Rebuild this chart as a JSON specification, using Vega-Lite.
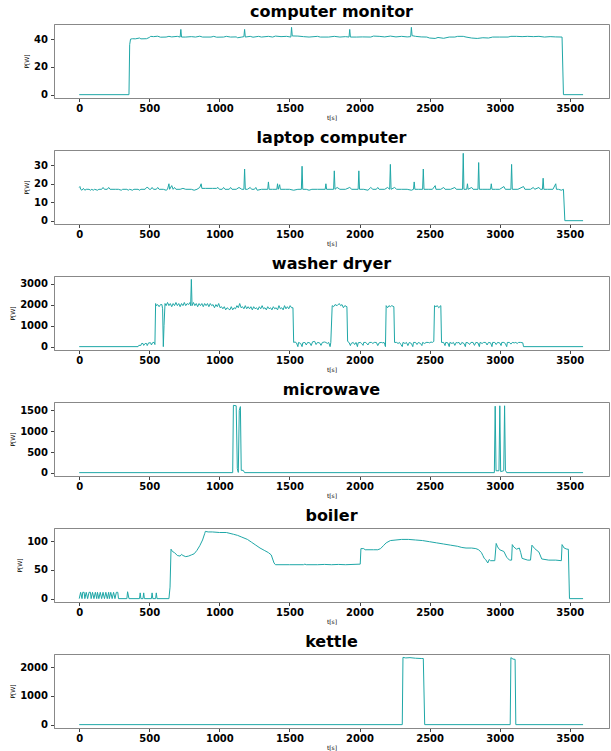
{
  "$schema": "https://vega.github.io/schema/vega-lite/v6.json",
  "padding": {"left": 9, "top": 3, "right": 1, "bottom": 3},
  "background": "white",
  "config": {
    "font": "DejaVu Sans",
    "view": {"stroke": "#888888", "strokeWidth": 1},
    "axis": {"grid": false, "domainColor": "#888888", "tickColor": "#444444", "tickSize": 3.5, "labelFontSize": 10, "labelFontWeight": "bold", "labelColor": "#000000", "labelPadding": 2, "titleFontSize": 6, "titleFontWeight": "normal", "titleColor": "#000000", "titlePadding": 1, "format": "d"},
    "axisY": {"titlePadding": 4, "labelPadding": 3},
    "title": {"fontSize": 16, "fontWeight": "bold", "color": "#000000", "offset": 4, "anchor": "middle"}
  },
  "datasets": {
    "monitor": [
      {"t":0,"p":0},{"t":355,"p":0},{"t":360,"p":36},{"t":366,"p":40},{"t":380,"p":40.3},{"t":400,"p":40.2},{"t":430,"p":40.8},{"t":440,"p":40.2},{"t":480,"p":40.3},{"t":500,"p":41.2},{"t":510,"p":42},{"t":530,"p":41.8},{"t":560,"p":42.1},{"t":580,"p":41.4},{"t":620,"p":41.5},{"t":640,"p":42},{"t":660,"p":41.6},{"t":700,"p":42},{"t":720,"p":41.5},{"t":725,"p":47},{"t":730,"p":41.5},{"t":760,"p":41.5},{"t":800,"p":41.8},{"t":830,"p":41.5},{"t":860,"p":42.1},{"t":880,"p":41.5},{"t":940,"p":41.5},{"t":960,"p":42},{"t":980,"p":41.4},{"t":1030,"p":41.5},{"t":1050,"p":42},{"t":1080,"p":41.5},{"t":1120,"p":41.6},{"t":1130,"p":41},{"t":1160,"p":41.5},{"t":1175,"p":41.8},{"t":1180,"p":47},{"t":1185,"p":41.5},{"t":1220,"p":42},{"t":1240,"p":41.4},{"t":1280,"p":42},{"t":1300,"p":41.5},{"t":1350,"p":42},{"t":1380,"p":41.5},{"t":1400,"p":42.2},{"t":1440,"p":41.8},{"t":1480,"p":42},{"t":1510,"p":41.5},{"t":1515,"p":48.5},{"t":1520,"p":42.3},{"t":1560,"p":42.2},{"t":1600,"p":41.8},{"t":1640,"p":41.5},{"t":1700,"p":42},{"t":1720,"p":41.5},{"t":1780,"p":41.5},{"t":1820,"p":42},{"t":1860,"p":41.5},{"t":1900,"p":41.8},{"t":1925,"p":41.5},{"t":1930,"p":47},{"t":1935,"p":41.5},{"t":1980,"p":41.5},{"t":2020,"p":41.6},{"t":2080,"p":41.5},{"t":2100,"p":42.2},{"t":2140,"p":42},{"t":2180,"p":41.6},{"t":2220,"p":42.2},{"t":2260,"p":41.6},{"t":2300,"p":42},{"t":2340,"p":41.6},{"t":2365,"p":41.8},{"t":2370,"p":48.5},{"t":2375,"p":42.5},{"t":2400,"p":42},{"t":2440,"p":41.6},{"t":2480,"p":41.5},{"t":2500,"p":40.8},{"t":2540,"p":40.5},{"t":2560,"p":41.2},{"t":2600,"p":40.6},{"t":2640,"p":41.5},{"t":2680,"p":41.5},{"t":2700,"p":42},{"t":2740,"p":42},{"t":2760,"p":41.5},{"t":2800,"p":40.8},{"t":2840,"p":40.5},{"t":2880,"p":41},{"t":2920,"p":40.8},{"t":2950,"p":41.5},{"t":3000,"p":41.5},{"t":3060,"p":41.5},{"t":3080,"p":42},{"t":3120,"p":42},{"t":3160,"p":41.8},{"t":3200,"p":42},{"t":3240,"p":41.8},{"t":3280,"p":42},{"t":3320,"p":41.5},{"t":3360,"p":41.8},{"t":3400,"p":41.6},{"t":3445,"p":41.5},{"t":3455,"p":0},{"t":3595,"p":0}
    ],
    "laptop": [
      {"t":0,"p":18},{"t":5,"p":18.5},{"t":10,"p":17},{"t":20,"p":16.5},{"t":30,"p":17.5},{"t":40,"p":16.5},{"t":50,"p":17},{"t":70,"p":17},{"t":80,"p":16.5},{"t":90,"p":17},{"t":100,"p":16.5},{"t":110,"p":17},{"t":130,"p":16.5},{"t":140,"p":17},{"t":160,"p":17},{"t":170,"p":18},{"t":180,"p":17},{"t":200,"p":17},{"t":210,"p":18},{"t":220,"p":17},{"t":260,"p":17},{"t":280,"p":17},{"t":300,"p":16.5},{"t":310,"p":17},{"t":340,"p":17},{"t":350,"p":16.5},{"t":360,"p":17},{"t":380,"p":16.5},{"t":390,"p":17},{"t":420,"p":17},{"t":430,"p":16.5},{"t":440,"p":17},{"t":470,"p":17},{"t":480,"p":18},{"t":490,"p":18},{"t":500,"p":17},{"t":510,"p":17},{"t":520,"p":18},{"t":530,"p":17},{"t":550,"p":17},{"t":560,"p":18},{"t":570,"p":17},{"t":600,"p":17},{"t":620,"p":16.5},{"t":630,"p":17},{"t":640,"p":20},{"t":645,"p":17},{"t":660,"p":19},{"t":670,"p":17},{"t":680,"p":18},{"t":690,"p":17},{"t":720,"p":17},{"t":740,"p":17.5},{"t":760,"p":17},{"t":800,"p":17},{"t":820,"p":16.5},{"t":840,"p":17},{"t":860,"p":18},{"t":870,"p":20},{"t":875,"p":17.5},{"t":900,"p":17.5},{"t":950,"p":17.5},{"t":980,"p":17.5},{"t":990,"p":18},{"t":1000,"p":17},{"t":1020,"p":17},{"t":1030,"p":18},{"t":1040,"p":17},{"t":1070,"p":17},{"t":1080,"p":18},{"t":1090,"p":17},{"t":1120,"p":17},{"t":1140,"p":18},{"t":1160,"p":17},{"t":1175,"p":17},{"t":1180,"p":28},{"t":1185,"p":17},{"t":1200,"p":17},{"t":1220,"p":18},{"t":1230,"p":17},{"t":1250,"p":17},{"t":1260,"p":18},{"t":1270,"p":16.5},{"t":1300,"p":17},{"t":1345,"p":17},{"t":1350,"p":21},{"t":1355,"p":17},{"t":1380,"p":17},{"t":1410,"p":17},{"t":1415,"p":20},{"t":1420,"p":17},{"t":1430,"p":19.5},{"t":1435,"p":17},{"t":1470,"p":17},{"t":1500,"p":17},{"t":1530,"p":16.5},{"t":1560,"p":17},{"t":1585,"p":17},{"t":1590,"p":29.5},{"t":1595,"p":17},{"t":1620,"p":17},{"t":1640,"p":16.5},{"t":1660,"p":17},{"t":1700,"p":17},{"t":1755,"p":17},{"t":1760,"p":20},{"t":1765,"p":17},{"t":1815,"p":17},{"t":1820,"p":27},{"t":1825,"p":17},{"t":1840,"p":18},{"t":1860,"p":17},{"t":1900,"p":17},{"t":1930,"p":18},{"t":1945,"p":17},{"t":1990,"p":17},{"t":1995,"p":27},{"t":2000,"p":17},{"t":2030,"p":17},{"t":2060,"p":16.5},{"t":2080,"p":18},{"t":2095,"p":17},{"t":2120,"p":17},{"t":2130,"p":18},{"t":2140,"p":17},{"t":2180,"p":17},{"t":2200,"p":18},{"t":2215,"p":17},{"t":2220,"p":30.5},{"t":2225,"p":17},{"t":2250,"p":18},{"t":2265,"p":17},{"t":2300,"p":17},{"t":2340,"p":17},{"t":2370,"p":16.5},{"t":2385,"p":17},{"t":2390,"p":21},{"t":2395,"p":17},{"t":2420,"p":17},{"t":2450,"p":17},{"t":2455,"p":28},{"t":2460,"p":17},{"t":2490,"p":17},{"t":2520,"p":17},{"t":2540,"p":19},{"t":2545,"p":17},{"t":2580,"p":17},{"t":2600,"p":18},{"t":2610,"p":17},{"t":2650,"p":17},{"t":2680,"p":18},{"t":2690,"p":17},{"t":2735,"p":17},{"t":2740,"p":36.5},{"t":2745,"p":17},{"t":2765,"p":17},{"t":2770,"p":20},{"t":2775,"p":17},{"t":2800,"p":18},{"t":2810,"p":17},{"t":2845,"p":17},{"t":2850,"p":31.5},{"t":2855,"p":17},{"t":2880,"p":17},{"t":2910,"p":17},{"t":2935,"p":17},{"t":2940,"p":20},{"t":2945,"p":17},{"t":2970,"p":17},{"t":3000,"p":17},{"t":3030,"p":18.5},{"t":3040,"p":17},{"t":3080,"p":17},{"t":3085,"p":30.5},{"t":3090,"p":17},{"t":3130,"p":17},{"t":3170,"p":18.5},{"t":3180,"p":17},{"t":3220,"p":17},{"t":3240,"p":18},{"t":3250,"p":17},{"t":3280,"p":18},{"t":3290,"p":17},{"t":3305,"p":17},{"t":3310,"p":23},{"t":3315,"p":17},{"t":3340,"p":17},{"t":3380,"p":17},{"t":3400,"p":20},{"t":3405,"p":17},{"t":3420,"p":17},{"t":3440,"p":16.5},{"t":3455,"p":17},{"t":3465,"p":0},{"t":3595,"p":0}
    ],
    "washer": [
      {"t":0,"p":0},{"t":420,"p":0},{"t":425,"p":60},{"t":440,"p":60},{"t":445,"p":150},{"t":455,"p":150},{"t":460,"p":60},{"t":470,"p":150},{"t":480,"p":150},{"t":485,"p":50},{"t":495,"p":180},{"t":510,"p":180},{"t":515,"p":80},{"t":525,"p":200},{"t":535,"p":200},{"t":540,"p":100},{"t":545,"p":2050},{"t":550,"p":1950},{"t":560,"p":2000},{"t":570,"p":1900},{"t":580,"p":2000},{"t":590,"p":2000},{"t":595,"p":1800},{"t":600,"p":0},{"t":605,"p":1000},{"t":612,"p":2050},{"t":620,"p":1950},{"t":630,"p":2100},{"t":640,"p":1950},{"t":650,"p":2050},{"t":660,"p":1900},{"t":670,"p":2050},{"t":680,"p":1950},{"t":690,"p":2100},{"t":700,"p":1950},{"t":710,"p":2050},{"t":720,"p":1900},{"t":730,"p":2050},{"t":740,"p":1950},{"t":750,"p":2100},{"t":760,"p":1950},{"t":770,"p":2050},{"t":780,"p":2000},{"t":790,"p":2100},{"t":795,"p":1950},{"t":800,"p":3200},{"t":805,"p":1950},{"t":815,"p":2100},{"t":825,"p":1950},{"t":835,"p":2050},{"t":845,"p":1900},{"t":855,"p":2050},{"t":865,"p":1950},{"t":875,"p":2050},{"t":885,"p":1900},{"t":895,"p":2050},{"t":905,"p":1950},{"t":915,"p":2050},{"t":925,"p":1900},{"t":935,"p":2050},{"t":945,"p":1950},{"t":955,"p":2000},{"t":965,"p":1850},{"t":975,"p":2000},{"t":985,"p":1900},{"t":995,"p":2050},{"t":1005,"p":1850},{"t":1015,"p":1900},{"t":1025,"p":1800},{"t":1035,"p":1900},{"t":1045,"p":1750},{"t":1055,"p":1850},{"t":1065,"p":1800},{"t":1075,"p":1750},{"t":1085,"p":1900},{"t":1095,"p":1750},{"t":1105,"p":1850},{"t":1115,"p":1800},{"t":1125,"p":1950},{"t":1135,"p":1850},{"t":1145,"p":2050},{"t":1155,"p":1850},{"t":1165,"p":1900},{"t":1175,"p":1800},{"t":1185,"p":1950},{"t":1195,"p":1800},{"t":1205,"p":1900},{"t":1215,"p":1800},{"t":1225,"p":1900},{"t":1235,"p":1750},{"t":1245,"p":1900},{"t":1255,"p":1800},{"t":1265,"p":1850},{"t":1275,"p":1750},{"t":1285,"p":1900},{"t":1295,"p":1800},{"t":1305,"p":1950},{"t":1315,"p":1800},{"t":1325,"p":1850},{"t":1335,"p":1750},{"t":1345,"p":1900},{"t":1355,"p":1800},{"t":1365,"p":1850},{"t":1375,"p":1750},{"t":1385,"p":1900},{"t":1395,"p":1800},{"t":1405,"p":1850},{"t":1415,"p":1750},{"t":1425,"p":1950},{"t":1435,"p":1800},{"t":1445,"p":1850},{"t":1455,"p":1750},{"t":1465,"p":1950},{"t":1475,"p":1800},{"t":1485,"p":1900},{"t":1495,"p":1800},{"t":1505,"p":1950},{"t":1515,"p":1850},{"t":1525,"p":1850},{"t":1530,"p":200},{"t":1540,"p":220},{"t":1550,"p":180},{"t":1560,"p":0},{"t":1565,"p":200},{"t":1580,"p":150},{"t":1590,"p":0},{"t":1595,"p":180},{"t":1610,"p":200},{"t":1620,"p":80},{"t":1630,"p":200},{"t":1645,"p":180},{"t":1655,"p":50},{"t":1665,"p":230},{"t":1680,"p":250},{"t":1690,"p":100},{"t":1700,"p":200},{"t":1715,"p":180},{"t":1725,"p":60},{"t":1735,"p":200},{"t":1750,"p":220},{"t":1760,"p":200},{"t":1770,"p":150},{"t":1780,"p":200},{"t":1790,"p":0},{"t":1795,"p":200},{"t":1805,"p":1950},{"t":1815,"p":1900},{"t":1825,"p":2000},{"t":1840,"p":1950},{"t":1855,"p":2050},{"t":1865,"p":1950},{"t":1875,"p":2000},{"t":1885,"p":1850},{"t":1895,"p":1950},{"t":1910,"p":1900},{"t":1915,"p":250},{"t":1925,"p":200},{"t":1935,"p":50},{"t":1940,"p":150},{"t":1955,"p":200},{"t":1965,"p":100},{"t":1975,"p":200},{"t":1985,"p":0},{"t":1990,"p":180},{"t":2005,"p":200},{"t":2015,"p":150},{"t":2025,"p":60},{"t":2030,"p":200},{"t":2045,"p":200},{"t":2060,"p":80},{"t":2070,"p":200},{"t":2085,"p":200},{"t":2095,"p":150},{"t":2105,"p":200},{"t":2120,"p":200},{"t":2130,"p":50},{"t":2140,"p":180},{"t":2155,"p":200},{"t":2165,"p":180},{"t":2175,"p":200},{"t":2180,"p":100},{"t":2185,"p":0},{"t":2190,"p":1950},{"t":2200,"p":1850},{"t":2210,"p":1950},{"t":2220,"p":1900},{"t":2230,"p":1950},{"t":2245,"p":1900},{"t":2250,"p":200},{"t":2265,"p":200},{"t":2275,"p":150},{"t":2285,"p":200},{"t":2295,"p":100},{"t":2305,"p":0},{"t":2310,"p":200},{"t":2325,"p":150},{"t":2335,"p":200},{"t":2345,"p":50},{"t":2355,"p":200},{"t":2370,"p":150},{"t":2380,"p":0},{"t":2385,"p":200},{"t":2400,"p":200},{"t":2410,"p":100},{"t":2420,"p":200},{"t":2435,"p":150},{"t":2445,"p":50},{"t":2450,"p":200},{"t":2465,"p":150},{"t":2475,"p":200},{"t":2490,"p":200},{"t":2500,"p":180},{"t":2510,"p":220},{"t":2520,"p":200},{"t":2530,"p":250},{"t":2535,"p":1950},{"t":2545,"p":1900},{"t":2555,"p":1950},{"t":2565,"p":1850},{"t":2580,"p":1950},{"t":2585,"p":200},{"t":2600,"p":200},{"t":2610,"p":50},{"t":2615,"p":200},{"t":2630,"p":180},{"t":2640,"p":0},{"t":2645,"p":200},{"t":2660,"p":150},{"t":2670,"p":200},{"t":2680,"p":60},{"t":2690,"p":200},{"t":2700,"p":180},{"t":2710,"p":200},{"t":2720,"p":80},{"t":2730,"p":200},{"t":2745,"p":150},{"t":2755,"p":0},{"t":2760,"p":200},{"t":2775,"p":180},{"t":2785,"p":100},{"t":2795,"p":200},{"t":2810,"p":200},{"t":2820,"p":60},{"t":2830,"p":200},{"t":2845,"p":180},{"t":2855,"p":0},{"t":2860,"p":200},{"t":2875,"p":150},{"t":2885,"p":200},{"t":2900,"p":200},{"t":2910,"p":80},{"t":2920,"p":200},{"t":2935,"p":180},{"t":2945,"p":0},{"t":2950,"p":200},{"t":2965,"p":200},{"t":2975,"p":100},{"t":2985,"p":200},{"t":3000,"p":180},{"t":3010,"p":50},{"t":3015,"p":200},{"t":3030,"p":200},{"t":3040,"p":150},{"t":3050,"p":0},{"t":3055,"p":200},{"t":3070,"p":200},{"t":3080,"p":120},{"t":3090,"p":200},{"t":3105,"p":180},{"t":3115,"p":200},{"t":3125,"p":150},{"t":3135,"p":200},{"t":3150,"p":200},{"t":3165,"p":180},{"t":3170,"p":0},{"t":3595,"p":0}
    ],
    "microwave": [
      {"t":0,"p":5},{"t":1095,"p":5},{"t":1100,"p":1620},{"t":1120,"p":1610},{"t":1128,"p":100},{"t":1135,"p":10},{"t":1142,"p":1500},{"t":1150,"p":1590},{"t":1156,"p":60},{"t":1170,"p":60},{"t":1180,"p":5},{"t":2962,"p":5},{"t":2968,"p":1600},{"t":2974,"p":50},{"t":2995,"p":50},{"t":3001,"p":1610},{"t":3007,"p":30},{"t":3029,"p":50},{"t":3035,"p":1610},{"t":3041,"p":60},{"t":3050,"p":5},{"t":3595,"p":5}
    ],
    "boiler": [
      {"t":0,"p":0},{"t":10,"p":11},{"t":20,"p":0},{"t":25,"p":11},{"t":35,"p":11},{"t":40,"p":0},{"t":50,"p":11},{"t":60,"p":0},{"t":70,"p":11},{"t":80,"p":11},{"t":85,"p":0},{"t":95,"p":11},{"t":105,"p":0},{"t":115,"p":11},{"t":125,"p":0},{"t":130,"p":11},{"t":140,"p":0},{"t":150,"p":11},{"t":160,"p":0},{"t":170,"p":11},{"t":180,"p":0},{"t":190,"p":11},{"t":200,"p":0},{"t":210,"p":11},{"t":215,"p":0},{"t":225,"p":11},{"t":235,"p":0},{"t":245,"p":11},{"t":255,"p":0},{"t":265,"p":11},{"t":275,"p":11},{"t":280,"p":0},{"t":340,"p":0},{"t":345,"p":12},{"t":355,"p":0},{"t":430,"p":0},{"t":435,"p":10},{"t":440,"p":0},{"t":455,"p":0},{"t":460,"p":10},{"t":465,"p":0},{"t":515,"p":0},{"t":520,"p":10},{"t":525,"p":0},{"t":545,"p":0},{"t":550,"p":10},{"t":555,"p":0},{"t":640,"p":0},{"t":648,"p":20},{"t":655,"p":86},{"t":665,"p":82},{"t":680,"p":80},{"t":700,"p":75},{"t":720,"p":74},{"t":730,"p":77},{"t":740,"p":75},{"t":760,"p":73},{"t":780,"p":74},{"t":800,"p":76},{"t":820,"p":78},{"t":840,"p":84},{"t":860,"p":92},{"t":880,"p":102},{"t":895,"p":113},{"t":900,"p":117},{"t":920,"p":116},{"t":950,"p":116},{"t":1000,"p":115},{"t":1050,"p":115},{"t":1100,"p":112},{"t":1130,"p":110},{"t":1160,"p":107},{"t":1200,"p":103},{"t":1230,"p":98},{"t":1260,"p":93},{"t":1290,"p":88},{"t":1320,"p":84},{"t":1350,"p":80},{"t":1370,"p":76},{"t":1390,"p":62},{"t":1400,"p":59},{"t":1500,"p":59},{"t":1600,"p":59},{"t":1610,"p":60},{"t":1620,"p":59},{"t":1700,"p":59},{"t":1750,"p":59.5},{"t":1800,"p":59},{"t":1850,"p":59.5},{"t":1900,"p":59},{"t":2005,"p":60},{"t":2010,"p":87},{"t":2030,"p":87},{"t":2040,"p":85},{"t":2100,"p":85},{"t":2130,"p":85},{"t":2150,"p":87},{"t":2170,"p":92},{"t":2190,"p":97},{"t":2220,"p":101},{"t":2260,"p":102},{"t":2300,"p":103},{"t":2350,"p":103},{"t":2400,"p":102},{"t":2450,"p":101},{"t":2500,"p":99},{"t":2550,"p":97},{"t":2600,"p":95},{"t":2650,"p":93},{"t":2700,"p":91},{"t":2730,"p":89},{"t":2760,"p":88},{"t":2800,"p":88},{"t":2830,"p":87},{"t":2850,"p":85},{"t":2870,"p":80},{"t":2880,"p":75},{"t":2890,"p":70},{"t":2900,"p":68},{"t":2915,"p":62},{"t":2925,"p":68},{"t":2935,"p":66},{"t":2965,"p":66},{"t":2975,"p":96},{"t":2985,"p":90},{"t":3000,"p":85},{"t":3030,"p":82},{"t":3050,"p":72},{"t":3070,"p":67},{"t":3085,"p":67},{"t":3090,"p":94},{"t":3100,"p":90},{"t":3120,"p":86},{"t":3140,"p":88},{"t":3150,"p":80},{"t":3160,"p":70},{"t":3200,"p":67},{"t":3220,"p":67},{"t":3230,"p":93},{"t":3250,"p":87},{"t":3280,"p":81},{"t":3300,"p":69},{"t":3350,"p":67},{"t":3400,"p":67},{"t":3440,"p":66},{"t":3445,"p":94},{"t":3460,"p":88},{"t":3480,"p":86},{"t":3490,"p":86},{"t":3498,"p":0},{"t":3595,"p":0}
    ],
    "kettle": [
      {"t":0,"p":0},{"t":2305,"p":0},{"t":2310,"p":2340},{"t":2330,"p":2320},{"t":2360,"p":2330},{"t":2400,"p":2310},{"t":2440,"p":2300},{"t":2455,"p":2300},{"t":2465,"p":0},{"t":3075,"p":0},{"t":3080,"p":2330},{"t":3095,"p":2280},{"t":3110,"p":2270},{"t":3115,"p":0},{"t":3595,"p":0}
    ]
  },
  "vconcat": [
    {"data": {"name": "monitor"}, "width": 555, "height": 74, "title": "computer monitor",
     "mark": {"type": "line", "color": "#1fa7a7", "strokeWidth": 1},
     "encoding": {
       "x": {"field": "t", "type": "quantitative", "scale": {"domain": [-180, 3780], "nice": false, "zero": false}, "axis": {"values": [0,500,1000,1500,2000,2500,3000,3500], "title": "t[s]"}},
       "y": {"field": "p", "type": "quantitative", "scale": {"domain": [-2.4, 50.9], "nice": false, "zero": false}, "axis": {"values": [0,20,40], "title": "P[W]"}}}},
    {"data": {"name": "laptop"}, "width": 555, "height": 74, "title": "laptop computer",
     "mark": {"type": "line", "color": "#1fa7a7", "strokeWidth": 1},
     "encoding": {
       "x": {"field": "t", "type": "quantitative", "scale": {"domain": [-180, 3780], "nice": false, "zero": false}, "axis": {"values": [0,500,1000,1500,2000,2500,3000,3500], "title": "t[s]"}},
       "y": {"field": "p", "type": "quantitative", "scale": {"domain": [-1.8, 38.3], "nice": false, "zero": false}, "axis": {"values": [0,10,20,30], "title": "P[W]"}}}},
    {"data": {"name": "washer"}, "width": 555, "height": 74, "title": "washer dryer",
     "mark": {"type": "line", "color": "#1fa7a7", "strokeWidth": 1},
     "encoding": {
       "x": {"field": "t", "type": "quantitative", "scale": {"domain": [-180, 3780], "nice": false, "zero": false}, "axis": {"values": [0,500,1000,1500,2000,2500,3000,3500], "title": "t[s]"}},
       "y": {"field": "p", "type": "quantitative", "scale": {"domain": [-160, 3360], "nice": false, "zero": false}, "axis": {"values": [0,1000,2000,3000], "title": "P[W]"}}}},
    {"data": {"name": "microwave"}, "width": 555, "height": 74, "title": "microwave",
     "mark": {"type": "line", "color": "#1fa7a7", "strokeWidth": 1},
     "encoding": {
       "x": {"field": "t", "type": "quantitative", "scale": {"domain": [-180, 3780], "nice": false, "zero": false}, "axis": {"values": [0,500,1000,1500,2000,2500,3000,3500], "title": "t[s]"}},
       "y": {"field": "p", "type": "quantitative", "scale": {"domain": [-76, 1701], "nice": false, "zero": false}, "axis": {"values": [0,500,1000,1500], "title": "P[W]"}}}},
    {"data": {"name": "boiler"}, "width": 555, "height": 74, "title": "boiler",
     "mark": {"type": "line", "color": "#1fa7a7", "strokeWidth": 1},
     "encoding": {
       "x": {"field": "t", "type": "quantitative", "scale": {"domain": [-180, 3780], "nice": false, "zero": false}, "axis": {"values": [0,500,1000,1500,2000,2500,3000,3500], "title": "t[s]"}},
       "y": {"field": "p", "type": "quantitative", "scale": {"domain": [-5.85, 122.85], "nice": false, "zero": false}, "axis": {"values": [0,50,100], "title": "P[W]"}}}},
    {"data": {"name": "kettle"}, "width": 555, "height": 74, "title": "kettle",
     "mark": {"type": "line", "color": "#1fa7a7", "strokeWidth": 1},
     "encoding": {
       "x": {"field": "t", "type": "quantitative", "scale": {"domain": [-180, 3780], "nice": false, "zero": false}, "axis": {"values": [0,500,1000,1500,2000,2500,3000,3500], "title": "t[s]"}},
       "y": {"field": "p", "type": "quantitative", "scale": {"domain": [-117, 2457], "nice": false, "zero": false}, "axis": {"values": [0,1000,2000], "title": "P[W]"}}}}
  ],
  "spacing": 52,
  "bounds": "flush"
}
